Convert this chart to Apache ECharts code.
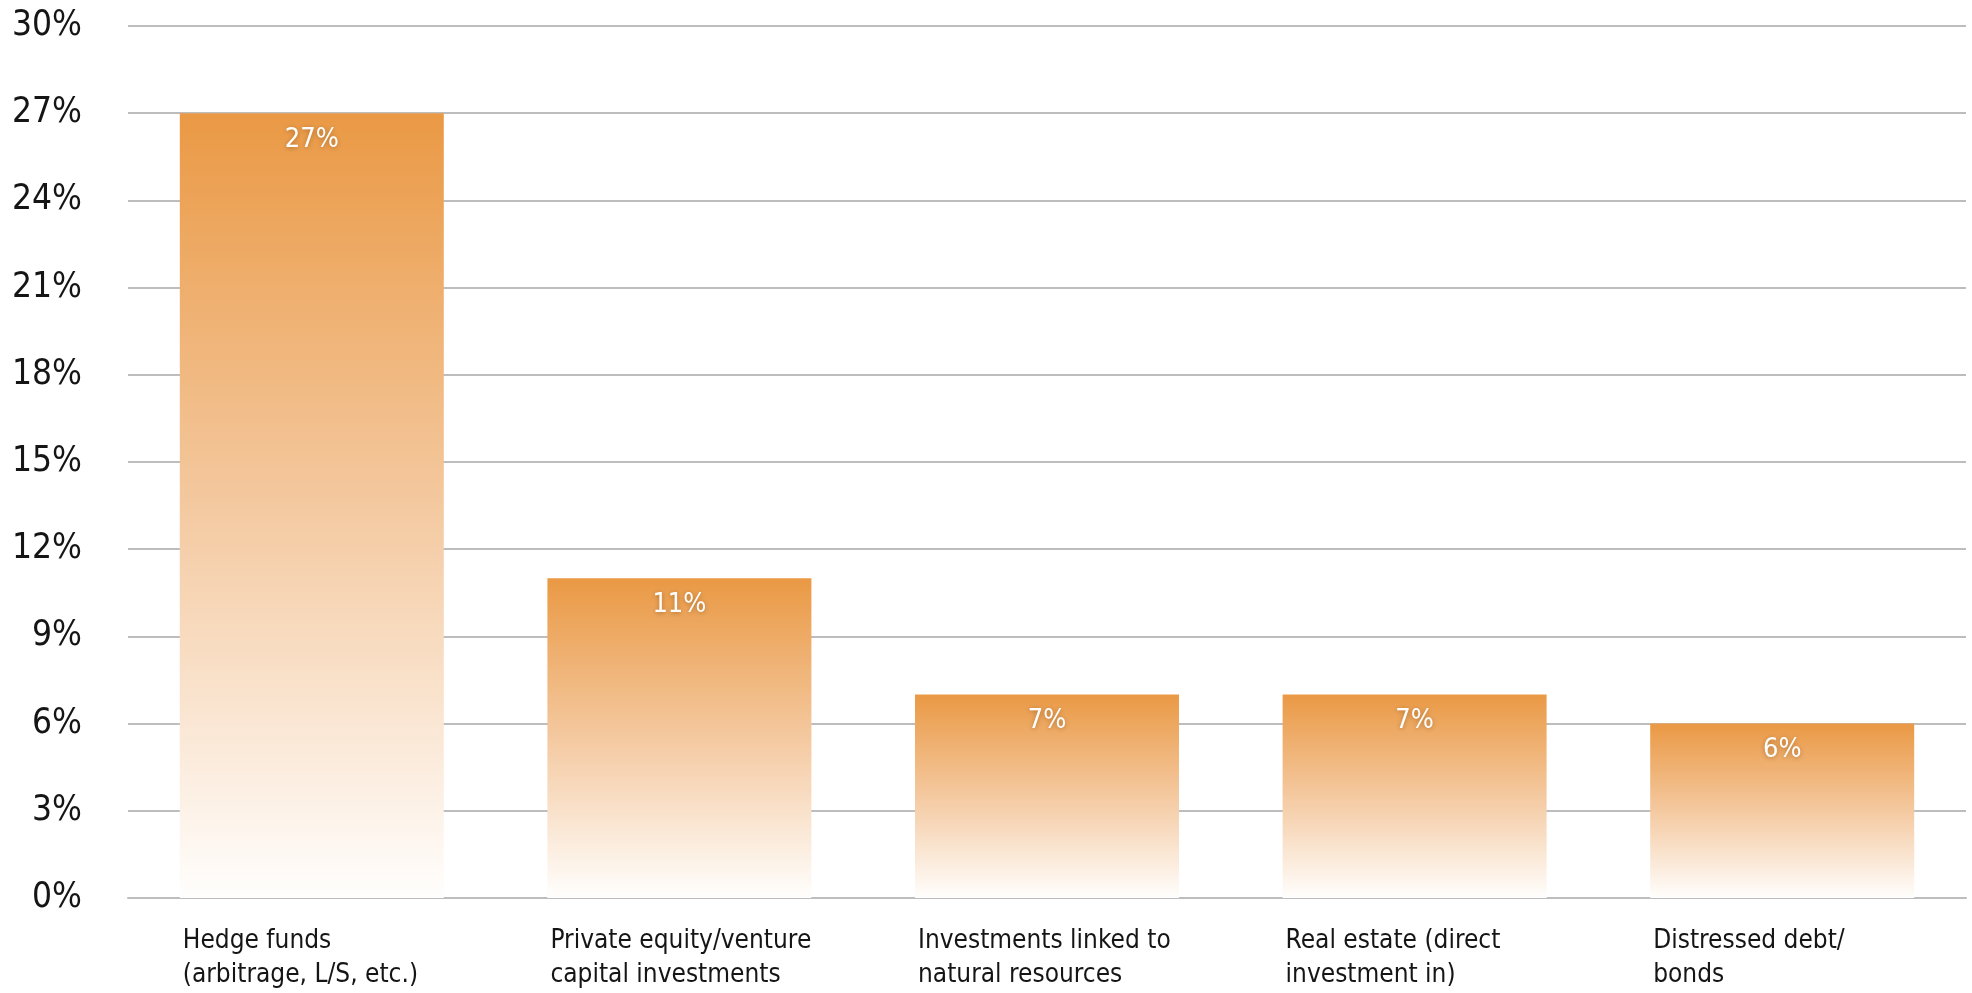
<!DOCTYPE html>
<html>
<head>
<meta charset="utf-8">
<script src="https://cdn.jsdelivr.net/npm/echarts@6/dist/echarts.min.js"></script>
<style>
  html, body { margin: 0; padding: 0; background: #ffffff; }
  #chart { width: 1972px; height: 993px; }
</style>
</head>
<body>
<div id="chart"></div>
<script>
// Allocation categories (two-line labels) and their shares in percent
const categories = [
  'Hedge funds\n(arbitrage, L/S, etc.)',
  'Private equity/venture\ncapital investments',
  'Investments linked to\nnatural resources',
  'Real estate (direct\ninvestment in)',
  'Distressed debt/\nbonds'
];
const shares = [27, 11, 7, 7, 6];

// Y axis range and step
const yMin = 0;
const yMax = 30;
const yStep = 3;

const FONT = '"Liberation Sans Narrow", "DejaVu Sans Condensed", sans-serif';
const BAR_WIDTH = 264;

const chart = echarts.init(document.getElementById('chart'), null, { renderer: 'canvas' });

chart.setOption({
  animation: false,
  backgroundColor: '#ffffff',
  grid: { left: 128, right: 6, top: 26, bottom: 95, containLabel: false },
  xAxis: {
    type: 'category',
    data: categories,
    axisLine: { show: true, lineStyle: { color: '#bdbdbd', width: 2 } },
    axisTick: { show: false },
    axisLabel: {
      margin: 26,
      interval: 0,
      formatter: function (v) {
        return v.split('\n').map(function (l) { return '{t|' + l + '}'; }).join('\n');
      },
      rich: {
        t: {
          width: BAR_WIDTH,
          align: 'left',
          padding: [0, 0, 0, 6],
          fontFamily: FONT,
          fontSize: 26,
          lineHeight: 34,
          color: '#151515'
        }
      }
    }
  },
  yAxis: {
    type: 'value',
    min: yMin,
    max: yMax,
    interval: yStep,
    axisLine: { show: false },
    axisTick: { show: false },
    splitLine: { show: true, lineStyle: { color: '#bdbdbd', width: 2 } },
    axisLabel: {
      margin: 46,
      fontFamily: FONT,
      fontSize: 35,
      color: '#151515',
      formatter: '{value}%'
    }
  },
  series: [{
    type: 'bar',
    data: shares,
    barWidth: BAR_WIDTH,
    itemStyle: {
      color: new echarts.graphic.LinearGradient(0, 0, 0, 1, [
        { offset: 0, color: '#ea9944' },
        { offset: 0.5, color: '#f4c9a0' },
        { offset: 1, color: '#fffefd' }
      ])
    },
    label: {
      show: true,
      position: 'insideTop',
      distance: 13,
      formatter: '{c}%',
      fontFamily: FONT,
      fontSize: 27,
      color: '#ffffff',
      textShadowColor: 'rgba(90,50,10,0.45)',
      textShadowBlur: 5,
      textShadowOffsetY: 1
    }
  }]
});
</script>
</body>
</html>
